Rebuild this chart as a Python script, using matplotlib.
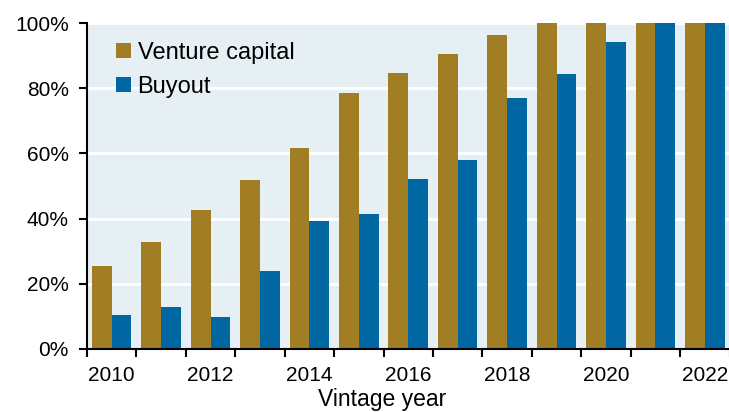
import matplotlib
matplotlib.use("Agg")
import matplotlib.pyplot as plt
import numpy as np
from matplotlib.patches import Patch
from matplotlib.ticker import FuncFormatter

plt.rcParams['font.family'] = ['Liberation Sans', 'DejaVu Sans']

years = ['2010', '2011', '2012', '2013', '2014', '2015', '2016',
         '2017', '2018', '2019', '2020', '2021', '2022']
venture = [25.5, 32.8, 42.6, 51.8, 61.7, 78.5, 84.7, 90.5, 96.3, 100, 100, 100, 100]
buyout = [10.4, 12.9, 9.8, 23.9, 39.3, 41.4, 52.1, 58.0, 77.0, 84.4, 94.2, 100, 100]
yticks = [0, 20, 40, 60, 80, 100]

c_vc = '#a17e24'
c_bo = '#0067a3'
bg = '#e6eff3'

fig = plt.figure(figsize=(7.29, 4.12), dpi=100)
ax = fig.add_axes([87 / 729, 63 / 412, 642.5 / 729, 326 / 412])
ax.set_facecolor(bg)

x = np.arange(len(years))
bw = 0.4
ax.bar(x - bw / 2, venture, bw, color=c_vc, linewidth=0, zorder=3)
ax.bar(x + bw / 2, buyout, bw, color=c_bo, linewidth=0, zorder=3)

ax.set_xlim(-0.5, len(years) - 0.5)
ax.set_ylim(0, 100)

ax.set_yticks(yticks)
ax.yaxis.set_major_formatter(FuncFormatter(lambda v, p: '%d%%' % v))
ax.grid(axis='y', color='white', linewidth=2, zorder=1)
ax.set_axisbelow(True)

# year labels on even years, ticks at the group boundaries
ax.set_xticks(x[::2])
ax.set_xticklabels(years[::2])
ax.set_xticks(np.arange(len(years) + 1) - 0.5, minor=True)
ax.tick_params(axis='x', which='major', length=0, pad=12, labelsize=15)
ax.tick_params(axis='x', which='minor', length=6, width=1.5, direction='out')
ax.tick_params(axis='y', length=6, width=1.5, pad=7, labelsize=15)

for s in ['top', 'right']:
    ax.spines[s].set_visible(False)
for s in ['left', 'bottom']:
    ax.spines[s].set_linewidth(1.5)
    ax.spines[s].set_zorder(4)

handles = [Patch(facecolor=c_vc, label='Venture capital'),
           Patch(facecolor=c_bo, label='Buyout')]
ax.legend(handles=handles, loc='upper left', bbox_to_anchor=(0.031, 0.97),
          frameon=False, fontsize=17, handlelength=0.6, handleheight=0.6,
          handletextpad=0.3, labelspacing=0.5, borderaxespad=0)

fig.text(382 / 729, 1 / 412, 'Vintage year', ha='center', va='bottom', fontsize=16.5)

fig.savefig('out.png', dpi=100)
